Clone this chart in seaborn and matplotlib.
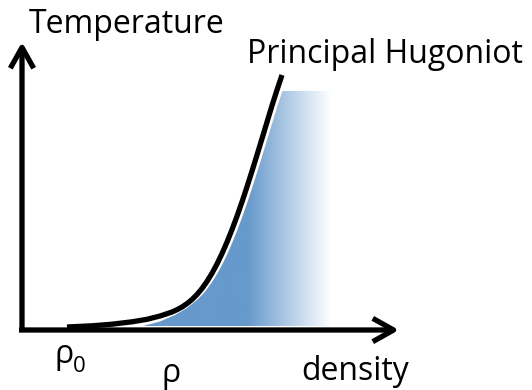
import numpy as np
import pandas as pd
import matplotlib
matplotlib.use("Agg")
import matplotlib.pyplot as plt
from matplotlib.patches import Polygon
import seaborn as sns

# Principal Hugoniot, temperature vs. density (arbitrary units, origin at rho = 0)
hugoniot_density = [0.45, 0.70, 0.90, 1.10, 1.25, 1.38, 1.50, 1.55, 1.60, 1.65,
                    1.70, 1.75, 1.80, 1.85, 1.90, 1.95, 2.00, 2.05, 2.10, 2.15,
                    2.20, 2.25, 2.30, 2.35, 2.40, 2.45, 2.50, 2.55, 2.60]
hugoniot_temperature = [0.030, 0.042, 0.058, 0.082, 0.107, 0.140, 0.180, 0.203, 0.230, 0.264,
                        0.305, 0.355, 0.415, 0.486, 0.567, 0.660, 0.764, 0.879, 1.004, 1.138,
                        1.281, 1.432, 1.589, 1.750, 1.914, 2.079, 2.244, 2.400, 2.550]

# Edge of the shaded region of accessible states just below the Hugoniot
region_density = [1.21, 1.38, 1.53, 1.65, 1.755, 1.805, 1.855, 1.905, 1.955, 2.005,
                  2.055, 2.105, 2.155, 2.205, 2.255, 2.305, 2.355, 2.405, 2.455, 2.505,
                  2.555, 2.605]
region_temperature = [0.04, 0.085, 0.15, 0.22, 0.305, 0.355, 0.415, 0.486, 0.567, 0.660,
                      0.764, 0.879, 1.004, 1.138, 1.281, 1.432, 1.589, 1.750, 1.914, 2.079,
                      2.244, 2.390]
region_fade_start = 2.25   # density where the shading begins to fade out
region_fade_end = 3.08     # density where the shading has faded to white

axis_x_end = 3.77
axis_y_end = 2.88

x_label = "density"
y_label = "Temperature"
curve_label = "Principal Hugoniot"
rho0_label = ("ρ", "0")
rho_label = "ρ"

sns.set_style("white")
plt.rcParams["font.family"] = ["Open Sans", "DejaVu Sans"]
plt.rcParams["text.color"] = "black"

fig = plt.figure(figsize=(5.32, 3.90), dpi=100)
ax = fig.add_axes([0, 0, 1, 1])

blue = np.array([0x66, 0x99, 0xCC]) / 255.0

# shaded region with a horizontal fade to white
top = max(region_temperature)
right = region_fade_end + 0.1
poly_pts = list(zip(region_density, region_temperature)) + [(right, top), (right, region_temperature[0])]
clip = Polygon(poly_pts, closed=True, facecolor="none", edgecolor="none")
ax.add_patch(clip)
xs = np.linspace(region_density[0], right, 400)
alpha = np.clip((region_fade_end - xs) / (region_fade_end - region_fade_start), 0, 1)
rgba = np.zeros((2, xs.size, 4))
rgba[..., :3] = blue
rgba[..., 3] = alpha
img = ax.imshow(rgba, extent=(region_density[0], right, region_temperature[0], top),
                aspect="auto", origin="lower", interpolation="bilinear", zorder=1)
img.set_clip_path(clip)

# Hugoniot curve
df = pd.DataFrame({"density": hugoniot_density, "temperature": hugoniot_temperature})
sns.lineplot(data=df, x="density", y="temperature", ax=ax, color="black",
             linewidth=3.8, sort=False, estimator=None, zorder=3)
for ln in ax.lines:
    ln.set_solid_joinstyle("round")
    ln.set_solid_capstyle("butt")
ax.set_xlim(-0.22, 5.10)
ax.set_ylim(-0.60, 3.30)
ax.set_axis_off()

# axes drawn as arrows
arrow_kw = dict(arrowstyle="->,head_length=0.75,head_width=0.42", lw=3.8,
                color="black", mutation_scale=20, shrinkA=0, shrinkB=0,
                joinstyle="round", capstyle="butt")
ax.annotate("", xy=(axis_x_end, 0), xytext=(-0.03, 0), arrowprops=arrow_kw, zorder=4)
ax.annotate("", xy=(0, axis_y_end), xytext=(0, -0.02), arrowprops=arrow_kw, zorder=4)

fs = 23
ax.text(0.07, 2.97, y_label, fontsize=fs, va="baseline", ha="left", color="black")
ax.text(2.25, 2.67, curve_label, fontsize=fs, va="baseline", ha="left", color="black")
ax.text(2.79, -0.50, x_label, fontsize=fs, va="baseline", ha="left", color="black")
ax.text(0.32, -0.33, rho0_label[0], fontsize=fs, va="baseline", ha="left", color="black")
ax.text(0.51, -0.42, rho0_label[1], fontsize=fs * 0.7, va="baseline", ha="left", color="black")
ax.text(1.40, -0.52, rho_label, fontsize=fs, va="baseline", ha="left", color="black")

fig.savefig("out.png", dpi=100)
